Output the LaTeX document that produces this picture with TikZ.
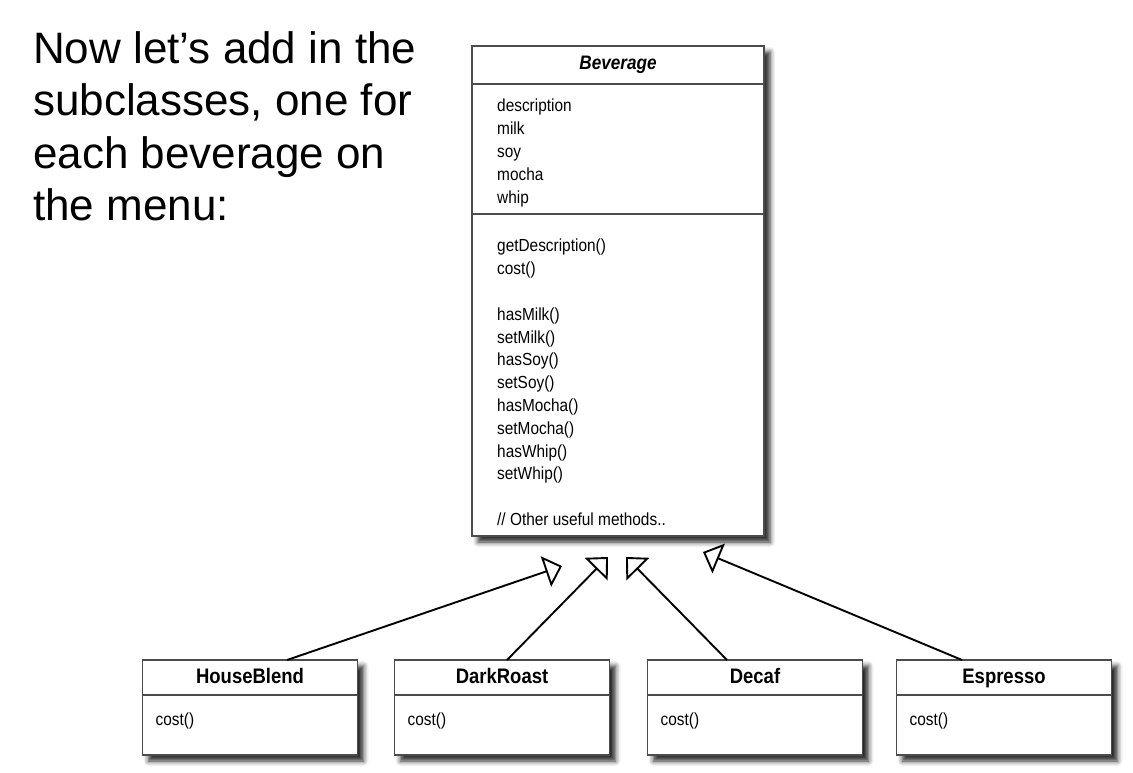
\documentclass[tikz,border=0pt]{standalone}
\usepackage{fontspec}
\setmainfont{Liberation Sans}
\newfontfamily\umlfont[FakeStretch=0.88]{Liberation Sans}
\usetikzlibrary{positioning,calc,fit,backgrounds,shadows.blur,arrows.meta}

\tikzset{
  classpart/.style={draw=black!70, line width=1.3pt, inner sep=0pt, outer sep=0pt},
  classframe/.style={draw=black!70, line width=1.3pt, fill=white, inner sep=0pt, outer sep=0pt,
    blur shadow={shadow xshift=6pt, shadow yshift=-6pt, shadow blur radius=5pt, shadow opacity=85}},
  classname/.style={font=\umlfont\fontsize{21}{21}\bfseries\selectfont, text height=15pt, text depth=4pt},
  members/.style={anchor=north west, align=left, inner sep=0pt, font=\umlfont\fontsize{17.5}{22.8}\selectfont},
  inherit/.style={-{Triangle[open, length=17pt, width=32pt]}, line width=1.9pt},
}

\begin{document}
\begin{tikzpicture}[x=1pt, y=-1pt]
\useasboundingbox (0,0) rectangle (1133,773);

% intro text
\node[anchor=north west, align=left, inner sep=0pt, font=\fontsize{44}{52.5}\selectfont] (intro) at (33,31)
  {Now let’s add in the\\subclasses, one for\\each beverage on\\the menu:};

% superclass
\node[classpart, minimum width=292, minimum height=38, font=\umlfont\fontsize{19.5}{19.5}\bfseries\itshape\selectfont] (bevhead) at (618,65) {Beverage};
\node[classpart, minimum width=292, minimum height=130, below=0pt of bevhead] (bevattr) {};
\node[classpart, minimum width=292, minimum height=322, below=0pt of bevattr] (bevops) {};
\node[members] (bevattrs) at ($(bevattr.north west)+(25,15)$)
  {description\\milk\\soy\\mocha\\whip};
\node[members] (bevmethods) at ($(bevops.north west)+(25,25)$)
  {getDescription()\\cost()\\[22.8pt]hasMilk()\\setMilk()\\hasSoy()\\setSoy()\\hasMocha()\\setMocha()\\hasWhip()\\setWhip()\\[22.8pt]// Other useful methods..};

% subclasses
\node[classpart, classname, minimum width=215, minimum height=35] (hbhead) at (250,677.5) {HouseBlend};
\node[classpart, minimum width=215, minimum height=60, below=0pt of hbhead] (hbbody) {};
\node[members, anchor=base west] (hbcost) at ($(hbbody.west)+(13,0)$) {cost()};

\node[classpart, classname, minimum width=215, minimum height=35] (drhead) at (502,677.5) {DarkRoast};
\node[classpart, minimum width=215, minimum height=60, below=0pt of drhead] (drbody) {};
\node[members, anchor=base west] (drcost) at ($(drbody.west)+(13,0)$) {cost()};

\node[classpart, classname, minimum width=215, minimum height=35] (dchead) at (755,677.5) {Decaf};
\node[classpart, minimum width=215, minimum height=60, below=0pt of dchead] (dcbody) {};
\node[members, anchor=base west] (dccost) at ($(dcbody.west)+(13,0)$) {cost()};

\node[classpart, classname, minimum width=215, minimum height=35] (eshead) at (1004,677.5) {Espresso};
\node[classpart, minimum width=215, minimum height=60, below=0pt of eshead] (esbody) {};
\node[members, anchor=base west] (escost) at ($(esbody.west)+(13,0)$) {cost()};

% white frames with shadows
\begin{scope}[on background layer]
  \node[classframe, fit=(bevhead)(bevops)] (bev) {};
  \node[classframe, fit=(hbhead)(hbbody)] (hb) {};
  \node[classframe, fit=(drhead)(drbody)] (dr) {};
  \node[classframe, fit=(dchead)(dcbody)] (dc) {};
  \node[classframe, fit=(eshead)(esbody)] (es) {};
\end{scope}

% inheritance
\coordinate (hbtip) at ($(bevops.south)+(-56,30)$);
\coordinate (drtip) at ($(bevops.south)+(-10,21)$);
\coordinate (dctip) at ($(bevops.south)+(8,21)$);
\coordinate (estip) at ($(bevops.south)+(85,16)$);
\draw[inherit] ($(hbhead.north)+(37,0)$) -- (hbtip);
\draw[inherit] ($(drhead.north)+(5,0)$) -- (drtip);
\draw[inherit] ($(dchead.north)+(-28,0)$) -- (dctip);
\draw[inherit] ($(eshead.north)+(-42,0)$) -- (estip);
\end{tikzpicture}
\end{document}
